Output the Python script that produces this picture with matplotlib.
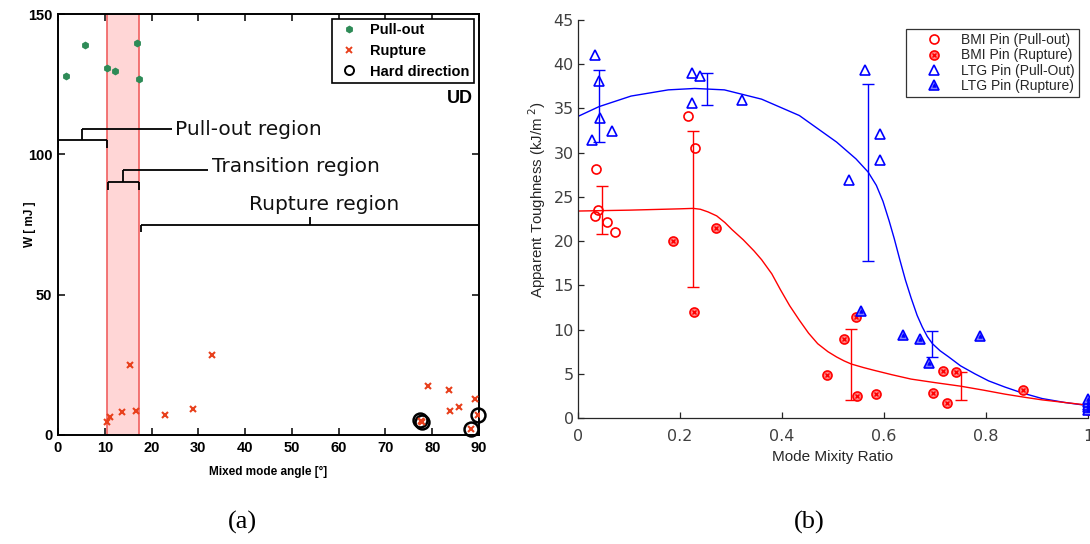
import matplotlib
matplotlib.use("Agg")
import matplotlib.pyplot as plt
from matplotlib.legend_handler import HandlerTuple

# ---------------- (a) pin work vs mixed-mode angle ----------------
pullout_angle = [1.8, 5.8, 10.5, 12.2, 16.9, 17.4]
pullout_w = [127.8, 139.0, 130.7, 129.8, 139.5, 126.9]

rupture_angle = [10.5, 11.2, 13.7, 15.3, 16.7, 22.8, 28.8, 33.0,
                 77.5, 77.8, 79.0, 83.5, 83.9, 85.7, 88.2, 89.1, 89.7]
rupture_w = [4.5, 6.5, 8.2, 25.0, 8.5, 7.3, 9.4, 28.4,
             5.1, 4.6, 17.3, 16.1, 8.5, 10.1, 2.1, 12.8, 7.2]

hard_angle = [77.4, 77.8, 88.2, 89.7]
hard_w = [5.2, 4.5, 2.1, 7.2]

transition_band = (10.4, 17.4)

# region brackets
region_names = ["Pull-out region", "Transition region", "Rupture region"]
region_start = [0.0, 10.6, 17.7]
region_end = [10.4, 17.4, 90.0]
region_level = [105.0, 90.0, 75.0]
region_stem_x = [5.2, 14.0, 53.9]
region_stem_top = [109.0, 94.4, 77.6]
region_lead_end = [24.4, 32.1, 53.9]
region_text_x = [25.0, 32.9, 56.9]
region_text_y = [109.0, 95.8, 82.0]
region_text_ha = ["left", "left", "center"]
region_tick_depth = 2.8

# ---------------- (b) apparent toughness vs mode mixity ----------------
bmi_pull_x = [0.215, 0.229, 0.035, 0.040, 0.034, 0.057, 0.073]
bmi_pull_y = [34.2, 30.5, 28.1, 23.5, 22.8, 22.2, 21.0]

bmi_rup_x = [0.271, 0.187, 0.227, 0.489, 0.521, 0.546, 0.547, 0.584,
             0.697, 0.723, 0.715, 0.741, 0.873, 1.0, 1.0]
bmi_rup_y = [21.5, 20.0, 12.0, 4.9, 8.9, 11.4, 2.46, 2.77,
             2.8, 1.74, 5.34, 5.2, 3.2, 0.9, 1.2]

ltg_pull_x = [0.034, 0.041, 0.044, 0.027, 0.066, 0.223, 0.240, 0.223,
              0.321, 0.563, 0.532, 0.593, 0.593]
ltg_pull_y = [41.0, 38.1, 33.9, 31.4, 32.5, 39.0, 38.7, 35.6,
              36.0, 39.3, 26.9, 32.1, 29.2]

ltg_rup_x = [0.555, 0.637, 0.670, 0.688, 0.788, 1.0, 1.0, 1.0, 1.0, 1.0]
ltg_rup_y = [12.1, 9.4, 8.9, 6.25, 9.3, 0.9, 1.2, 1.5, 1.8, 2.1]

# fitted trend curves
ltg_fit_x = [0.0, 0.041, 0.104, 0.177, 0.229, 0.287, 0.360, 0.434, 0.507,
             0.545, 0.569, 0.585, 0.598, 0.610, 0.620, 0.631, 0.642, 0.653,
             0.665, 0.675, 0.685, 0.695, 0.710, 0.727, 0.750, 0.778,
             0.805, 0.837, 0.870, 0.910, 0.955, 1.0]
ltg_fit_y = [34.1, 35.2, 36.4, 37.1, 37.26, 37.1, 36.05, 34.2, 31.2,
             29.3, 27.8, 26.3, 24.5, 22.3, 20.3, 17.9, 15.6, 13.6,
             11.6, 10.3, 9.2, 8.4, 7.6, 6.9, 5.9, 5.0,
             4.2, 3.5, 2.85, 2.2, 1.75, 1.4]

bmi_fit_x = [0.0, 0.100, 0.200, 0.226, 0.240, 0.255, 0.272, 0.288, 0.302,
             0.324, 0.345, 0.360, 0.380, 0.397, 0.415, 0.434, 0.452, 0.470,
             0.490, 0.507, 0.522, 0.536, 0.560, 0.580, 0.615, 0.653, 0.700,
             0.750, 0.795, 0.837, 0.875, 0.910, 0.955, 1.0]
bmi_fit_y = [23.4, 23.5, 23.65, 23.7, 23.6, 23.3, 22.85, 22.1, 21.3,
             20.15, 18.9, 17.9, 16.3, 14.5, 12.7, 11.06, 9.6, 8.4,
             7.5, 6.9, 6.45, 6.1, 5.7, 5.4, 4.9, 4.4, 4.0,
             3.6, 3.15, 2.7, 2.35, 2.05, 1.75, 1.45]

# error bars (position, mean, low, high)
ltg_err_x = [0.041, 0.252, 0.569, 0.695]
ltg_err_mid = [35.3, 37.2, 27.8, 8.4]
ltg_err_lo = [31.15, 35.4, 17.8, 6.9]
ltg_err_hi = [39.3, 39.0, 37.8, 9.85]

bmi_err_x = [0.047, 0.226, 0.536, 0.750]
bmi_err_mid = [23.5, 23.65, 6.1, 3.6]
bmi_err_lo = [20.8, 14.8, 2.08, 2.05]
bmi_err_hi = [26.2, 32.5, 10.1, 5.2]

W, H = 1090, 544
fig = plt.figure(figsize=(W / 100, H / 100), dpi=100)


def frac_box(x0, y0, x1, y1):
    return [x0 / W, 1 - y1 / H, (x1 - x0) / W, (y1 - y0) / H]


# ================= panel (a) =================
ax1 = fig.add_axes(frac_box(58, 14, 479, 435))
green = "#2e8b57"
orange = "#e8401c"

ax1.axvspan(*transition_band, facecolor="#ffd6d6", edgecolor="none", zorder=0)
for xb in transition_band:
    ax1.axvline(xb, color="#f06060", lw=1.2, zorder=1)

ax1.plot(pullout_angle, pullout_w, linestyle="none", marker="h", ms=4.5,
         color=green, label="Pull-out", zorder=3)
ax1.plot(rupture_angle, rupture_w, linestyle="none", marker="x", ms=5,
         mew=1.5, color=orange, label="Rupture", zorder=4)
ax1.plot(hard_angle, hard_w, linestyle="none", marker="o", ms=10,
         mfc="none", mec="black", mew=1.8, label="Hard direction", zorder=3,
         clip_on=False)

bk = dict(color="black", lw=1.3, solid_capstyle="butt", zorder=2)
for i, name in enumerate(region_names):
    x0, x1, lv = region_start[i], region_end[i], region_level[i]
    ax1.plot([x0, x1], [lv, lv], **bk)
    for xe in (x0, x1):
        ax1.plot([xe, xe], [lv, lv - region_tick_depth], **bk)
    sx, st = region_stem_x[i], region_stem_top[i]
    ax1.plot([sx, sx], [lv, st], **bk)
    ax1.plot([sx, region_lead_end[i]], [st, st], **bk)
    ax1.text(region_text_x[i], region_text_y[i], name, ha=region_text_ha[i],
             va="center", fontsize=14.5, family="DejaVu Sans", color="#111111")

ax1.set_xlim(0, 90)
ax1.set_ylim(0, 150)
ax1.set_xticks(range(0, 91, 10))
ax1.set_yticks([0, 50, 100, 150])
ax1.tick_params(direction="in", top=True, right=True, length=5, width=1.1,
                labelsize=10.5, pad=4)
for lab in ax1.get_xticklabels() + ax1.get_yticklabels():
    lab.set_fontweight("bold")
    lab.set_family("Liberation Sans")
for sp in ax1.spines.values():
    sp.set_linewidth(1.4)
ax1.set_xlabel("Mixed mode angle [°]", fontsize=8.5, fontweight="bold",
               family="Liberation Sans", labelpad=8)
ax1.set_ylabel("W [ mJ ]", fontsize=8.5, fontweight="bold",
               family="Liberation Sans")
ax1.yaxis.set_label_coords(-0.052, 0.5)

leg1 = ax1.legend(loc="upper right", bbox_to_anchor=(0.988, 0.988),
                  prop=dict(family="Liberation Sans", weight="bold", size=10.5),
                  frameon=True, fancybox=False, edgecolor="black",
                  framealpha=1, handlelength=1.7, handletextpad=0.6,
                  labelspacing=0.45, borderpad=0.3, borderaxespad=0)
leg1.get_frame().set_linewidth(1.2)
leg1.legend_handles[0].set_markersize(4.5)
leg1.legend_handles[1].set_markersize(4.5)
leg1.legend_handles[1].set_markeredgewidth(1.4)
leg1.legend_handles[2].set_markersize(6.5)
leg1.legend_handles[2].set_markeredgewidth(1.4)
ax1.text(0.985, 0.8, "UD", transform=ax1.transAxes, ha="right", va="center",
         fontsize=13, fontweight="bold", family="Liberation Sans")

# ================= panel (b) =================
ax2 = fig.add_axes(frac_box(578, 20, 1088, 418))
red = "#ff0000"
blue = "#0000ff"

ax2.plot(ltg_fit_x, ltg_fit_y, color=blue, lw=1.0, zorder=2)
ax2.plot(bmi_fit_x, bmi_fit_y, color=red, lw=1.0, zorder=2)

ax2.errorbar(ltg_err_x, ltg_err_mid,
             yerr=[[m - l for m, l in zip(ltg_err_mid, ltg_err_lo)],
                   [h - m for m, h in zip(ltg_err_mid, ltg_err_hi)]],
             fmt="none", ecolor=blue, elinewidth=1.0, capsize=4, capthick=1.0,
             zorder=2)
ax2.errorbar(bmi_err_x, bmi_err_mid,
             yerr=[[m - l for m, l in zip(bmi_err_mid, bmi_err_lo)],
                   [h - m for m, h in zip(bmi_err_mid, bmi_err_hi)]],
             fmt="none", ecolor=red, elinewidth=1.0, capsize=4, capthick=1.0,
             zorder=2)

h_bmi_pull, = ax2.plot(bmi_pull_x, bmi_pull_y, linestyle="none", marker="o",
                       ms=6.5, mfc="none", mec=red, mew=1.2, zorder=3)
h_bmi_rup_o, = ax2.plot(bmi_rup_x, bmi_rup_y, linestyle="none", marker="o",
                        ms=6.5, mfc="#ff8080", mec=red, mew=1.2, zorder=3,
                        clip_on=False)
h_bmi_rup_x, = ax2.plot(bmi_rup_x, bmi_rup_y, linestyle="none", marker="x",
                        ms=3.5, mec=red, mew=1.0, zorder=3, clip_on=False)
h_ltg_pull, = ax2.plot(ltg_pull_x, ltg_pull_y, linestyle="none", marker="^",
                       ms=7, mfc="none", mec=blue, mew=1.2, zorder=3)
h_ltg_rup_o, = ax2.plot(ltg_rup_x, ltg_rup_y, linestyle="none", marker="^",
                        ms=7, mfc="#8080ff", mec=blue, mew=1.2, zorder=3,
                        clip_on=False)
h_ltg_rup_i, = ax2.plot(ltg_rup_x, ltg_rup_y, linestyle="none", marker="^",
                        ms=2.5, mfc=blue, mec=blue, mew=0.6, zorder=3,
                        clip_on=False)

ax2.set_xlim(0, 1)
ax2.set_ylim(0, 45)
ax2.set_xticks([0, 0.2, 0.4, 0.6, 0.8, 1.0])
ax2.set_xticklabels(["0", "0.2", "0.4", "0.6", "0.8", "1"])
ax2.set_yticks(range(0, 46, 5))
ax2.spines["top"].set_visible(False)
ax2.spines["right"].set_visible(False)
for sp in ("left", "bottom"):
    ax2.spines[sp].set_color("#262626")
    ax2.spines[sp].set_linewidth(0.9)
ax2.tick_params(direction="in", length=4, width=0.9, color="#262626",
                labelsize=11.5, labelcolor="#404040", pad=3)
ax2.tick_params(axis="x", pad=8)
for lab in ax2.get_xticklabels() + ax2.get_yticklabels():
    lab.set_family("DejaVu Sans")
ax2.set_xlabel("Mode Mixity Ratio", fontsize=11, family="Liberation Sans",
               color="#262626", labelpad=4)
ax2.set_ylabel("Apparent Toughness (kJ/m$^{\\ 2}$)", fontsize=10.8,
               family="Liberation Sans", color="#262626")
ax2.yaxis.set_label_coords(-0.058, 0.55)

leg2 = ax2.legend([h_bmi_pull, (h_bmi_rup_o, h_bmi_rup_x), h_ltg_pull,
                   (h_ltg_rup_o, h_ltg_rup_i)],
                  ["BMI Pin (Pull-out)", "BMI Pin (Rupture)",
                   "LTG Pin (Pull-Out)", "LTG Pin (Rupture)"],
                  handler_map={tuple: HandlerTuple(ndivide=1, pad=0)},
                  loc="upper right", bbox_to_anchor=(0.982, 0.977),
                  prop=dict(family="Liberation Sans", size=10),
                  labelcolor="#262626", frameon=True, fancybox=False,
                  edgecolor="#333333", framealpha=1, handlelength=3.4,
                  handletextpad=0.25, labelspacing=0.08, borderpad=0.3,
                  borderaxespad=0)
leg2.get_frame().set_linewidth(0.9)

# panel captions
fig.text(242 / W, 1 - 522 / H, "(a)", ha="center", va="center",
         fontsize=19, family="Liberation Serif")
fig.text(809 / W, 1 - 522 / H, "(b)", ha="center", va="center",
         fontsize=19, family="Liberation Serif")

fig.savefig("out.png", dpi=100)
